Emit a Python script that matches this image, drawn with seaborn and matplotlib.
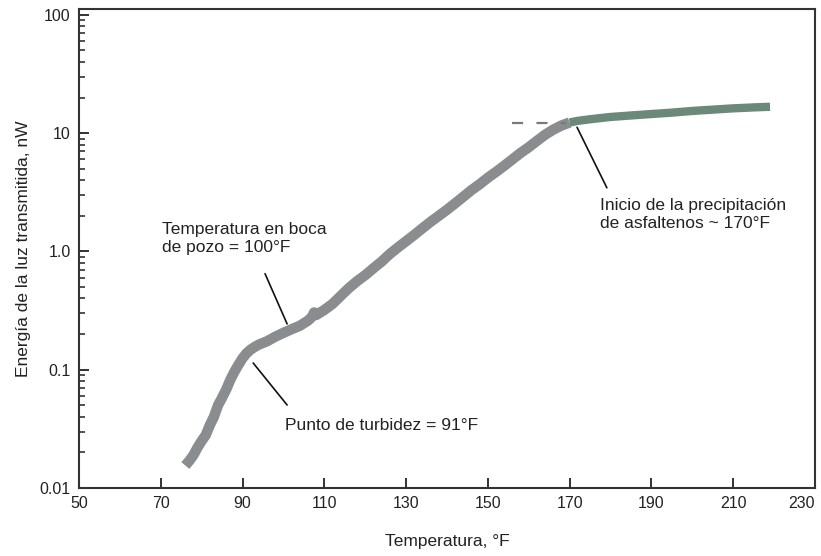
import numpy as np
import pandas as pd
import matplotlib
matplotlib.use('Agg')
import matplotlib.pyplot as plt
import matplotlib.ticker as mticker
import seaborn as sns

# Curva principal (gris) hasta el inicio de la precipitación
temp_gris = [76, 77, 78, 79, 80, 81, 82, 83, 84, 85, 86, 87, 88, 89, 90, 91, 92, 93, 94,
             96, 98, 100, 102, 104, 106, 107, 107.5, 108, 110, 112, 114, 116, 118, 120,
             122, 124, 126, 128, 130, 132, 134, 136, 138, 140, 142, 144, 146, 148, 150,
             152, 154, 156, 158, 160, 162, 164, 166, 168, 170]
energia_gris = [0.0155, 0.017, 0.019, 0.022, 0.025, 0.028, 0.034, 0.040, 0.050, 0.058,
                0.068, 0.082, 0.096, 0.110, 0.125, 0.138, 0.148, 0.156, 0.163,
                0.174, 0.19, 0.205, 0.22, 0.235, 0.26, 0.28, 0.305, 0.29, 0.32, 0.36,
                0.42, 0.49, 0.56, 0.63, 0.72, 0.82, 0.95, 1.08, 1.22, 1.38, 1.57,
                1.78, 2.0, 2.25, 2.55, 2.9, 3.3, 3.7, 4.2, 4.7, 5.3, 6.0, 6.8, 7.6,
                8.6, 9.7, 10.7, 11.6, 12.3]

# Tramo final (gris verdoso)
temp_verde = [170, 172, 175, 180, 185, 190, 195, 200, 205, 210, 215, 219]
energia_verde = [12.3, 12.7, 13.1, 13.7, 14.1, 14.5, 14.9, 15.4, 15.8, 16.2, 16.5, 16.7]

# Extrapolación punteada
temp_trazos = [156, 169]
energia_trazos = [12.2, 12.2]

yticks = [0.01, 0.1, 1, 10, 100]
ytick_labels = ['0.01', '0.1', '1.0', '10', '100']
xticks = [50, 70, 90, 110, 130, 150, 170, 190, 210, 230]

sns.set_style('ticks')
plt.rcParams['font.family'] = ['Liberation Sans', 'DejaVu Sans']

df_gris = pd.DataFrame({'T': temp_gris, 'E': energia_gris})
df_verde = pd.DataFrame({'T': temp_verde, 'E': energia_verde})

fig = plt.figure(figsize=(8.21, 5.56), dpi=100)
ax = fig.add_axes([0.0962, 0.1223, 0.8965, 0.8615])

sns.lineplot(data=df_gris, x='T', y='E', ax=ax, color='#8a8d90', linewidth=7.5,
             sort=False, solid_capstyle='butt', solid_joinstyle='round')
sns.lineplot(data=df_verde, x='T', y='E', ax=ax, color='#6c8878', linewidth=6,
             sort=False, solid_capstyle='butt')
ax.plot(temp_trazos, energia_trazos, color='#7a7a7a', linewidth=1.6,
        linestyle=(0, (5, 6)))

ax.set_yscale('log')
ax.set_xlim(50, 230)
ax.set_ylim(0.01, 112)
ax.set_xticks(xticks)
ax.set_xticklabels([str(t) for t in xticks])
ax.set_yticks(yticks)
ax.set_yticklabels(ytick_labels)
ax.yaxis.set_minor_locator(mticker.LogLocator(base=10, subs=np.arange(2, 10)))
ax.yaxis.set_minor_formatter(mticker.NullFormatter())
ax.tick_params(axis='both', which='major', direction='in', length=7, width=1.3,
               labelsize=11.5, colors='#222222', pad=6)
ax.tick_params(axis='y', which='minor', direction='in', length=4, width=1.1,
               colors='#222222')
ax.tick_params(top=False, right=False)

# la última etiqueta del eje x queda pegada al borde
ax.get_xticklabels()[-1].set_horizontalalignment('right')

for s in ax.spines.values():
    s.set_visible(True)
    s.set_color('#333333')
    s.set_linewidth(1.5)

ax.set_xlabel('Temperatura, °F', fontsize=12.5, color='#222222', labelpad=16)
ax.set_ylabel('Energía de la luz transmitida, nW', fontsize=12.5, color='#222222',
              labelpad=6)

# Anotaciones
ax.plot([95.5, 100.9], [0.648, 0.244], color='#111111', linewidth=1.2)
ax.text(70.3, 1.79, 'Temperatura en boca\nde pozo = 100°F', fontsize=12.5,
        ha='left', va='top', linespacing=1.3, color='#222222')

ax.plot([92.6, 100.9], [0.114, 0.0503], color='#111111', linewidth=1.2)
ax.text(100.4, 0.034, 'Punto de turbidez = 91°F', fontsize=12.5,
        ha='left', va='center', color='#222222')

ax.plot([171.8, 179.1], [11.2, 3.45], color='#111111', linewidth=1.2)
ax.text(177.4, 2.84, 'Inicio de la precipitación\nde asfaltenos ~ 170°F', fontsize=12.5,
        ha='left', va='top', linespacing=1.3, color='#222222')

fig.savefig('out.png', dpi=100)
